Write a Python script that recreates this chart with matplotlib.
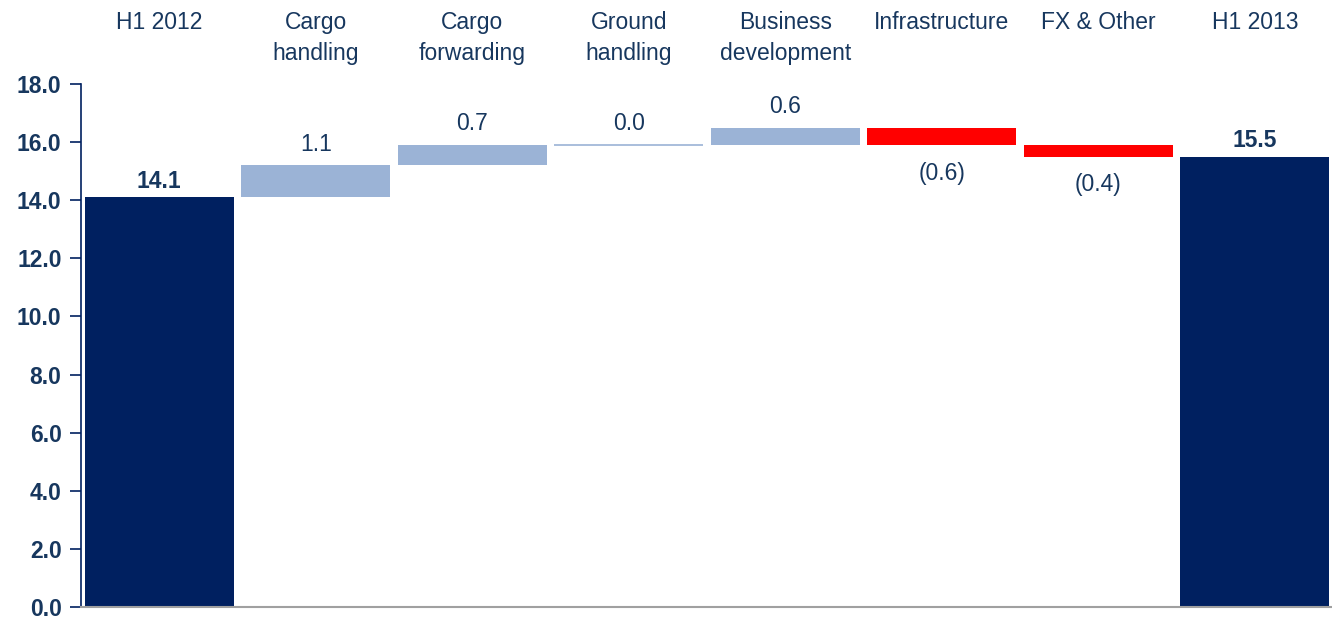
import matplotlib
matplotlib.use('Agg')
import matplotlib.pyplot as plt
import numpy as np

categories = ['H1 2012', 'Cargo\nhandling', 'Cargo\nforwarding', 'Ground\nhandling',
              'Business\ndevelopment', 'Infrastructure', 'FX & Other', 'H1 2013']
start_total = 14.1
deltas = [1.1, 0.7, 0.0, 0.6, -0.6, -0.4]
end_total = 15.5
yticks = [0, 2, 4, 6, 8, 10, 12, 14, 16, 18]

NAVY = '#002060'
LIGHT = '#9BB3D6'
RED = '#FF0000'
TXT = '#17375E'

plt.rcParams['font.family'] = ['Liberation Sans Narrow', 'Liberation Sans', 'DejaVu Sans']

fig = plt.figure(figsize=(13.32, 6.18), dpi=100)
ax = fig.add_axes([81/1332, 11/618, 1252/1332, 523/618])

x = np.arange(len(categories))
w = 0.95
FS = 16.5

# totals
ax.bar(x[0], start_total, width=w, color=NAVY)
ax.bar(x[-1], end_total, width=w, color=NAVY)
for xi, v in [(x[0], start_total), (x[-1], end_total)]:
    ax.annotate('%.1f' % v, (xi, v), xytext=(0, 3), textcoords='offset points',
                ha='center', va='bottom', fontsize=FS, fontweight='bold', color=TXT)

# steps
level = start_total
for i, d in enumerate(deltas):
    xi = x[i + 1]
    col = LIGHT if d >= 0 else RED
    if d == 0:
        ax.hlines(level, xi - w/2, xi + w/2, color=LIGHT, linewidth=1.2)
    else:
        ax.bar(xi, d, bottom=level, width=w, color=col)
    if d >= 0:
        ax.annotate('%.1f' % d, (xi, level + d), xytext=(0, 7), textcoords='offset points',
                    ha='center', va='bottom', fontsize=FS, color=TXT)
    else:
        ax.annotate('(%.1f)' % abs(d), (xi, level + d), xytext=(0, -12), textcoords='offset points',
                    ha='center', va='top', fontsize=FS, color=TXT)
    level += d

# category labels on top
for xi, lab in zip(x, categories):
    ax.text(xi, 1.0 + 73/523, lab, transform=ax.get_xaxis_transform(), ha='center', va='top',
            fontsize=FS, color=TXT, linespacing=1.45)

ax.set_xlim(-0.5, len(categories) - 0.5)
ax.set_ylim(0, 18)
ax.set_yticks(yticks)
ax.set_yticklabels(['%.1f' % t for t in yticks], fontsize=FS, fontweight='bold', color=TXT)
ax.set_xticks([])
ax.spines['top'].set_visible(False)
ax.spines['right'].set_visible(False)
ax.spines['left'].set_color(NAVY)
ax.spines['left'].set_linewidth(1.2)
ax.spines['bottom'].set_color('#A0A0A0')
ax.spines['bottom'].set_linewidth(1.5)
ax.tick_params(axis='y', direction='out', length=8, width=1.2, color=NAVY, pad=6)

fig.savefig('out.png', dpi=100)
